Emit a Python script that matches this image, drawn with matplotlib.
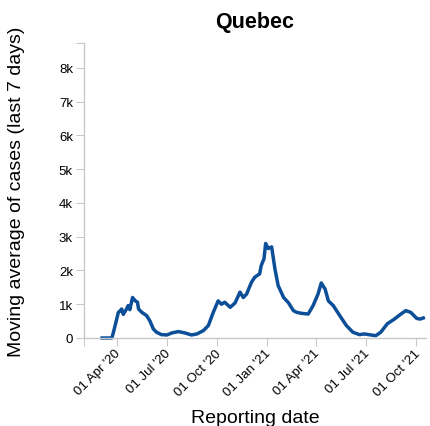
import matplotlib
matplotlib.use("Agg")
import matplotlib.pyplot as plt
import matplotlib.dates as mdates
import matplotlib.transforms as mtransforms
from matplotlib.ticker import FixedLocator, NullLocator
from datetime import datetime

plt.rcParams["font.family"] = ["Liberation Sans", "DejaVu Sans"]

dates = [
    "2020-03-01", "2020-03-22", "2020-03-25", "2020-04-03", "2020-04-06",
    "2020-04-09", "2020-04-12", "2020-04-18", "2020-04-21", "2020-04-24",
    "2020-04-29", "2020-05-04", "2020-05-08", "2020-05-10", "2020-05-16",
    "2020-05-25", "2020-05-31", "2020-06-06", "2020-06-12", "2020-06-21",
    "2020-07-01", "2020-07-10", "2020-07-22", "2020-08-03", "2020-08-15",
    "2020-08-25", "2020-09-06", "2020-09-15", "2020-09-24", "2020-10-03",
    "2020-10-09", "2020-10-15", "2020-10-25", "2020-11-03", "2020-11-12",
    "2020-11-18", "2020-11-24", "2020-12-03", "2020-12-09", "2020-12-18",
    "2020-12-21", "2020-12-26", "2020-12-29", "2021-01-03", "2021-01-09",
    "2021-01-15", "2021-01-21", "2021-01-31", "2021-02-09", "2021-02-18",
    "2021-02-24", "2021-03-05", "2021-03-17", "2021-03-26", "2021-04-04",
    "2021-04-10", "2021-04-17", "2021-04-23", "2021-05-02", "2021-05-14",
    "2021-05-26", "2021-06-07", "2021-06-19", "2021-06-28", "2021-07-10",
    "2021-07-19", "2021-07-28", "2021-08-09", "2021-08-22", "2021-09-03",
    "2021-09-12", "2021-09-21", "2021-10-02", "2021-10-08", "2021-10-17",
]
cases = [
    0, 0, 170, 760, 800,
    860, 700, 860, 960, 840,
    1200, 1100, 1060, 860, 760,
    660, 500, 270, 170, 100,
    90, 150, 190, 150, 90,
    120, 220, 370, 760, 1100,
    1000, 1060, 910, 1040, 1360,
    1200, 1300, 1650, 1800, 1900,
    2150, 2350, 2800, 2650, 2700,
    2050, 1550, 1200, 1040, 810,
    760, 730, 710, 960, 1300,
    1630, 1450, 1100, 960, 660,
    370, 170, 100, 120, 90,
    70, 170, 420, 560, 710,
    810, 760, 580, 560, 610,
]

y_max = 8740
y_ticks = [0, 1000, 2000, 3000, 4000, 5000, 6000, 7000, 8000, y_max]
y_tick_labels = ["0", "1k", "2k", "3k", "4k", "5k", "6k", "7k", "8k", ""]
x_start, x_end = "2020-01-31", "2021-10-19"
x_tick_dates = [x_start, "2020-04-01", "2020-07-01", "2020-10-01", "2021-01-01",
                "2021-04-01", "2021-07-01", "2021-10-01"]


def to_num(s):
    return mdates.date2num(datetime.strptime(s, "%Y-%m-%d"))


x = [to_num(d) for d in dates]
x_ticks = [to_num(d) for d in x_tick_dates]
x_tick_labels = [""] + [datetime.strptime(d, "%Y-%m-%d").strftime("%d %b '%y")
                        for d in x_tick_dates[1:]]

fig = plt.figure(figsize=(4.3, 4.27), dpi=100)
ax = fig.add_axes([84 / 430, 88 / 427, 342 / 430, 295 / 427])

ax.plot(x, cases, color="#0c4f98", linewidth=2.5,
        solid_joinstyle="round", solid_capstyle="butt", clip_on=False)

ax.set_xlim(to_num(x_start), to_num(x_end))
ax.set_ylim(0, y_max)

ax.yaxis.set_major_locator(FixedLocator(y_ticks))
ax.yaxis.set_minor_locator(NullLocator())
ax.set_yticklabels(y_tick_labels)

ax.xaxis.set_major_locator(FixedLocator(x_ticks))
ax.xaxis.set_minor_locator(NullLocator())
ax.set_xticklabels(x_tick_labels)

for side in ["top", "right"]:
    ax.spines[side].set_visible(False)
for side in ["left", "bottom"]:
    ax.spines[side].set_color("#c8c8c8")
    ax.spines[side].set_linewidth(1)

ax.tick_params(axis="both", colors="#c8c8c8", labelcolor="black",
               labelsize=9.5, length=5.8, width=0.75)
ax.tick_params(axis="y", pad=2.2)
ax.tick_params(axis="x", pad=0.5)

# rotated date labels, nudged right so they end just past the tick
shift = mtransforms.ScaledTranslation(6 / 100, 0, fig.dpi_scale_trans)
for lbl in ax.get_xticklabels():
    lbl.set_rotation(45)
    lbl.set_horizontalalignment("right")
    lbl.set_verticalalignment("top")
    lbl.set_transform(lbl.get_transform() + shift)

ax.set_xlabel("Reporting date", fontsize=14)
ax.xaxis.set_label_coords(0.5, -0.241)
ax.xaxis.label.set_verticalalignment("top")

fig.text(17 / 430, (427 - 192) / 427, "Moving average of cases (last 7 days)",
         rotation=90, ha="center", va="center", fontsize=14)

ax.set_title("Quebec", fontsize=15.5, fontweight="bold", pad=11.3)

fig.savefig("out.png", dpi=100)
